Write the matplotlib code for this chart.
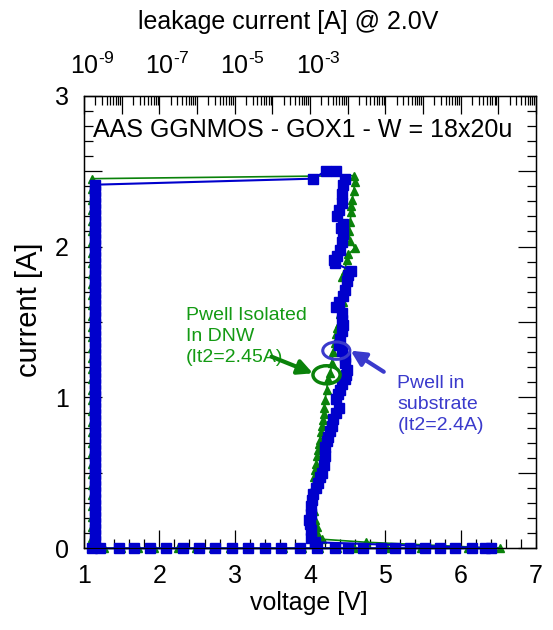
import matplotlib.pyplot as plt
from matplotlib.patches import Ellipse
from matplotlib.ticker import MultipleLocator, LogLocator, NullFormatter
import matplotlib.transforms as mtransforms

plt.rcParams['font.family'] = 'Liberation Sans'
plt.rcParams['mathtext.fontset'] = 'custom'
plt.rcParams['mathtext.rm'] = 'Liberation Sans'
plt.rcParams['mathtext.default'] = 'regular'

# Pwell in substrate (blue squares)
blue_zero_v = [1.10, 1.21, 1.46, 1.66, 1.88, 2.09, 2.32, 2.52, 2.74, 2.96, 3.18, 3.40, 3.62, 3.87,
               4.09, 4.33, 4.51, 4.71, 4.95, 5.13, 5.33, 5.53, 5.73, 5.93, 6.15, 6.32, 6.41]
blue_zero_i = [0.0] * len(blue_zero_v)
blue_v = [4.07, 4.02, 4.02, 4.00, 3.99, 4.01, 4.02, 4.03, 4.04, 4.08, 4.11, 4.14, 4.16, 4.18,
          4.20, 4.20, 4.22, 4.24, 4.27, 4.29, 4.31, 4.35, 4.38, 4.35, 4.37, 4.40, 4.43, 4.46,
          4.48, 4.49, 4.47, 4.46, 4.42, 4.38, 4.40, 4.42, 4.44, 4.42, 4.42, 4.35, 4.38, 4.44,
          4.46, 4.49, 4.51, 4.55, 4.33, 4.32, 4.36, 4.40, 4.42, 4.44, 4.41, 4.44, 4.36, 4.39,
          4.42, 4.43, 4.44, 4.46, 4.35, 4.21, 4.04]
blue_i = [0.04, 0.07, 0.12, 0.16, 0.19, 0.23, 0.28, 0.32, 0.36, 0.40, 0.43, 0.47, 0.50, 0.55,
          0.61, 0.67, 0.71, 0.74, 0.78, 0.81, 0.86, 0.90, 0.93, 0.99, 1.02, 1.05, 1.09, 1.12,
          1.15, 1.18, 1.23, 1.27, 1.31, 1.35, 1.39, 1.44, 1.48, 1.51, 1.56, 1.60, 1.63, 1.67,
          1.71, 1.77, 1.81, 1.84, 1.89, 1.91, 1.94, 1.98, 2.03, 2.08, 2.12, 2.15, 2.20, 2.24,
          2.29, 2.35, 2.41, 2.45, 2.50, 2.50, 2.45]
blue_col_v = [1.14] * 61
blue_col_i = [2.41, 2.37, 2.33, 2.29, 2.25, 2.21, 2.17, 2.13, 2.09, 2.05,
              2.01, 1.97, 1.93, 1.89, 1.85, 1.81, 1.77, 1.73, 1.69, 1.65,
              1.61, 1.57, 1.53, 1.49, 1.45, 1.41, 1.37, 1.33, 1.29, 1.25,
              1.21, 1.17, 1.13, 1.09, 1.05, 1.01, 0.97, 0.93, 0.89, 0.85,
              0.81, 0.77, 0.73, 0.69, 0.65, 0.61, 0.57, 0.53, 0.49, 0.45,
              0.41, 0.37, 0.33, 0.29, 0.25, 0.21, 0.17, 0.13, 0.09, 0.05,
              0.01]

# Pwell isolated in DNW (green triangles)
green_zero_v = [1.09, 1.26, 1.49, 1.71, 1.93, 2.25, 2.48, 2.71, 2.94, 3.17, 3.41, 3.64, 3.89, 4.12,
                4.36, 4.58, 5.02, 5.48, 6.10, 6.52]
green_zero_i = [0.0] * len(green_zero_v)
green_v = [4.75, 4.16, 4.10, 4.09, 4.07, 4.05, 4.04, 4.04, 4.05, 4.07, 4.08, 4.09, 4.11, 4.12,
           4.13, 4.15, 4.16, 4.17, 4.18, 4.19, 4.20, 4.22, 4.24, 4.27, 4.29, 4.31, 4.33, 4.35,
           4.36, 4.38, 4.40, 4.42, 4.44, 4.44, 4.46, 4.43, 4.46, 4.49, 4.51, 4.60, 4.53, 4.52,
           4.53, 4.55, 4.55, 4.56, 4.58, 4.60, 4.58]
green_i = [0.04, 0.06, 0.10, 0.14, 0.19, 0.25, 0.32, 0.40, 0.47, 0.52, 0.56, 0.61, 0.65, 0.69,
           0.72, 0.77, 0.81, 0.85, 0.89, 0.93, 0.98, 1.05, 1.12, 1.16, 1.23, 1.30, 1.36, 1.42,
           1.46, 1.49, 1.55, 1.60, 1.63, 1.67, 1.73, 1.80, 1.84, 1.91, 1.95, 1.99, 2.04, 2.10,
           2.16, 2.23, 2.27, 2.31, 2.37, 2.43, 2.47]
green_col_v = [1.11] + [1.10] * 35
green_col_i = [2.45, 2.38, 2.31, 2.24, 2.17, 2.10,
               2.03, 1.96, 1.89, 1.82, 1.75, 1.68,
               1.61, 1.54, 1.47, 1.40, 1.33, 1.26,
               1.19, 1.12, 1.05, 0.98, 0.91, 0.84,
               0.77, 0.70, 0.63, 0.56, 0.49, 0.42,
               0.35, 0.28, 0.21, 0.14, 0.07, 0.02]

top_labels = {-9: r'$10^{\text{-9}}$', -7: r'$10^{\text{-7}}$',
              -5: r'$10^{\text{-5}}$', -3: r'$10^{\text{-3}}$'}

green = '#0a820a'
green_txt = '#139a13'
blue = '#0000cc'
blue_txt = '#3a3acc'

fig = plt.figure(figsize=(5.53, 6.30), dpi=100)
ax = fig.add_axes([0.152, 0.1297, 0.817, 0.7184])

ax.plot(green_zero_v + green_v + green_col_v, green_zero_i + green_i + green_col_i,
        color=green, lw=1.2, marker='^', ms=6, clip_on=False, zorder=3)
ax.plot(blue_zero_v + blue_v + blue_col_v, blue_zero_i + blue_i + blue_col_i,
        color=blue, lw=1.5, marker='s', ms=6.5, mec=blue, clip_on=False, zorder=4)

ax.set_xlim(1, 7)
ax.set_ylim(0, 3)
ax.set_xticks(range(1, 8))
ax.xaxis.set_minor_locator(MultipleLocator(0.2))
ax.set_yticks([0, 0.5, 1, 1.5, 2, 2.5, 3])
ax.set_yticklabels(['0', '', '1', '', '2', '', '3'])
ax.yaxis.set_minor_locator(MultipleLocator(0.1))
ax.tick_params(which='both', direction='in', top=False, right=True, labelsize=18, width=0.9)
ax.tick_params(which='major', length=13, pad=11)
ax.tick_params(which='minor', length=6.5)
for s in ax.spines.values():
    s.set_linewidth(1.0)

# top log axis (leakage current)
ax2 = ax.twiny()
ax2.set_xscale('log')
ax2.set_xlim(1e-9, 1e3)
decades = [10.0 ** k for k in range(-9, 4)]
ax2.set_xticks(decades)
ax2.set_xticklabels([top_labels.get(k, '') for k in range(-9, 4)])
ax2.xaxis.set_minor_locator(LogLocator(base=10, subs=range(2, 10), numticks=100))
ax2.xaxis.set_minor_formatter(NullFormatter())
ax2.tick_params(which='both', direction='in', labelsize=18, width=0.9)
ax2.tick_params(which='major', length=13, pad=12)
ax2.tick_params(which='minor', length=6.5)

ax.text(0.02, 0.95, 'AAS GGNMOS - GOX1 - W = 18x20u', transform=ax.transAxes,
        fontsize=18, va='top', ha='left')

ax.text(2.35, 1.60, 'Pwell Isolated\nIn DNW\n(It2=2.45A)', color=green_txt,
        fontsize=14, va='top', ha='left', linespacing=1.3)
ax.text(5.16, 1.15, 'Pwell in\nsubstrate\n(It2=2.4A)', color=blue_txt,
        fontsize=14, va='top', ha='left', linespacing=1.3)

ax.add_patch(Ellipse((4.22, 1.15), 0.36, 0.12, fill=False, ec=green, lw=2.5, zorder=5))
ax.add_patch(Ellipse((4.35, 1.31), 0.36, 0.115, fill=False, ec=blue_txt, lw=2.2, zorder=5))
ax.annotate('', xy=(4.04, 1.16), xytext=(3.49, 1.27),
            arrowprops=dict(arrowstyle='-|>', color=green, lw=3, mutation_scale=22,
                            shrinkA=0, shrinkB=0), zorder=6)
ax.annotate('', xy=(4.54, 1.31), xytext=(4.98, 1.17),
            arrowprops=dict(arrowstyle='-|>', color=blue_txt, lw=3, mutation_scale=22,
                            shrinkA=0, shrinkB=0), zorder=6)

fig.text(309 / 553, 1 - 603 / 630, 'voltage [V]', fontsize=18, ha='center', va='center')
fig.text(29 / 553, 1 - 310 / 630, 'current [A]', fontsize=21, ha='center', va='center',
         rotation=90)
fig.text(288 / 553, 1 - 22 / 630, 'leakage current [A] @ 2.0V', fontsize=18,
         ha='center', va='center')

# shift the top labels so the "10" sits over its tick
offset = mtransforms.ScaledTranslation(8 / 100, 0, fig.dpi_scale_trans)
for lbl in ax2.get_xticklabels():
    lbl.set_transform(lbl.get_transform() + offset)

fig.savefig('out.png', dpi=100)
